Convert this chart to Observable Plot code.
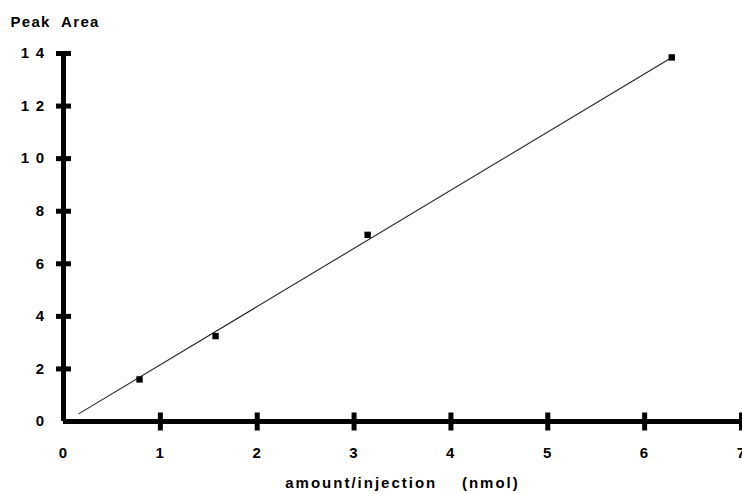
<!DOCTYPE html>
<html>
<head>
<meta charset="utf-8">
<script src="https://cdn.jsdelivr.net/npm/d3@7"></script>
<script src="https://cdn.jsdelivr.net/npm/@observablehq/plot@0.6"></script>
<style>
  html, body { margin: 0; padding: 0; background: #fff; }
  svg { display: block; }
</style>
</head>
<body>
<div id="chart"></div>
<script>
// Data
const amount = [0.785, 1.57, 3.14, 6.28];      // nmol per injection
const peakArea = [1.6, 3.25, 7.1, 13.85];      // peak area
const fitX = [0.16, 6.28];                      // calibration line ends
const fitY = [0.3, 13.85];

const xTicks = [0, 1, 2, 3, 4, 5, 6, 7];
const xTickLabels = ["0", "1", "2", "3", "4", "5", "6", "7"];
const yTicks = [0, 2, 4, 6, 8, 10, 12, 14];
const yTickLabels = ["0", "2", "4", "6", "8", "1 0", "1 2", "1 4"];

const yTitle = "Peak  Area";
const xTitle = "amount/injection    (nmol)";

const points = amount.map((x, i) => ({x, y: peakArea[i]}));
const fit = fitX.map((x, i) => ({x, y: fitY[i]}));
const xt = xTicks.map((v, i) => ({v, label: xTickLabels[i]}));
const yt = yTicks.map((v, i) => ({v, label: yTickLabels[i]}));

const vBar = {draw(ctx) { ctx.rect(-2.5, -9, 5, 18); }};
const hBar = {draw(ctx) { ctx.rect(-7.5, -2.5, 15, 5); }};

const font = "'Liberation Sans', Arial, Helvetica, sans-serif";

const chart = Plot.plot({
  width: 742,
  height: 494,
  marginLeft: 63,
  marginRight: 1,
  marginTop: 53,
  marginBottom: 73,
  style: {fontFamily: font, background: "#fff", color: "#000"},
  x: {domain: [0, 7], axis: null},
  y: {domain: [0, 14], axis: null},
  marks: [
    // axes lines
    Plot.ruleY([0], {x1: 0, x2: 7, stroke: "#000", strokeWidth: 5}),
    Plot.ruleX([0], {y1: 0, y2: 14, stroke: "#000", strokeWidth: 5}),
    // ticks crossing the axes
    Plot.dot(xt.filter(d => d.v !== 0), {x: "v", y: () => 0, symbol: vBar, fill: "#000", stroke: null}),
    Plot.dot(yt.filter(d => d.v !== 0), {x: () => 0, y: "v", symbol: hBar, fill: "#000", stroke: null}),
    // tick labels
    Plot.text(xt, {x: "v", y: () => 0, text: "label", dy: 32, fontSize: 15, fontWeight: "bold", fill: "#000", className: "tl"}),
    Plot.text(yt, {x: () => 0, y: "v", text: "label", dx: -18, textAnchor: "end", fontSize: 15, fontWeight: "bold", fill: "#000", className: "tl"}),
    // calibration line
    Plot.line(fit, {x: "x", y: "y", stroke: "#222", strokeWidth: 1.1}),
    // data points
    Plot.dot(points, {x: "x", y: "y", symbol: "square", r: 3.6, fill: "#000", stroke: null}),
    // titles
    Plot.text([yTitle], {frameAnchor: "top-left", dx: -53, dy: -37, textAnchor: "start", fontSize: 15, fontWeight: "bold", fill: "#000", className: "yt"}),
    Plot.text([xTitle], {frameAnchor: "bottom", dy: 66, fontSize: 15, fontWeight: "bold", fill: "#000", className: "xt"})
  ]
});
chart.querySelectorAll("text").forEach(t => { t.style.whiteSpace = "pre"; t.style.letterSpacing = "1.3px"; });
chart.querySelectorAll(".xt text").forEach(t => t.style.letterSpacing = "2px");
document.getElementById("chart").appendChild(chart);
</script>
</body>
</html>
